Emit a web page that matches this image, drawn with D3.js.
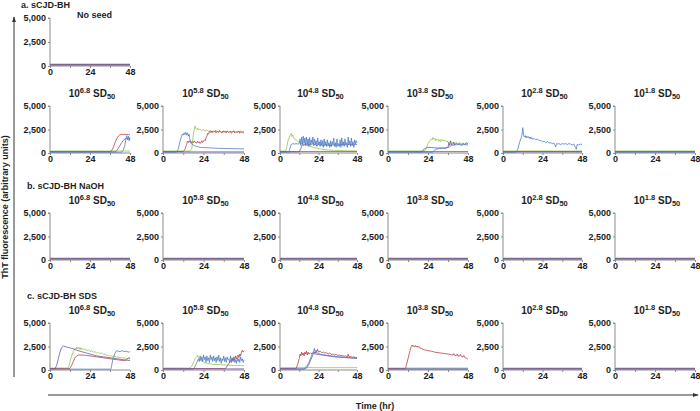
<!DOCTYPE html>
<html><head><meta charset="utf-8">
<script src="https://cdn.jsdelivr.net/npm/d3@7"></script>
<style>
body{margin:0;background:#fff}
text{font-family:"Liberation Sans",Arial,Helvetica,sans-serif;font-weight:bold;fill:#1e1e1e}
</style>
</head><body>
<svg id="chart" width="700" height="411"></svg>
<script>
// ---------------- DATA ----------------
const sectionLabels = ["a. sCJD-BH", "b. sCJD-BH NaOH", "c. sCJD-BH SDS"];
const noSeedLabel = "No seed";
const doseExponents = ["6.8", "5.8", "4.8", "3.8", "2.8", "1.8"];
const yTickValues = [0, 2500, 5000];
const xTickLabels = [0, 24, 48];
const xMinorTicks = [12, 36];
const yAxisTitle = "ThT fluorescence (arbitrary units)";
const xAxisTitle = "Time (hr)";
const seriesNames = ["blue", "red", "green", "purple"];
const seriesColors = ["#4a78c6", "#b23a40", "#8fc24a", "#6a4fa6"];

// flat (unreacted) baselines, [time hr, fluorescence]
const baseBlue = [[0, 90], [48, 90]];
const baseRed = [[0, 150], [48, 150]];
const baseGreen = [[0, 210], [48, 210]];
const basePurple = [[0, 120], [48, 120]];

// a. sCJD-BH seeded
const a68Red = [[0,150],[36,150],[37,250],[38,600],[39,1100],[40,1500],[41,1800],[42,1950],[43,2000],[44,1950],[45,2000],[46,1950],[47,1980],[48,1900]];
const a68Purple = [[0,120],[39,120],[40,250],[41,500],[42,800],[43,1100],[44,1350],[45,1500],[46,1550],[47,1500],[48,1480]];
const a68Blue = [[0,90],[43,90],[44,300],[45,900],[45.5,1500],[46,1850],[46.5,1400],[47,1800],[47.5,1300],[48,1700]];

const a58Blue = [[0,90],[8,90],[9,400],[10,1200],[11,1800],[11.5,2000],[12,1900],[12.5,2150],[13,1950],[13.5,2200],[14,1900],[14.5,2150],[15,1800],[15.5,2000],[16,1400],[16.5,1050],[17,950],[18,850],[19,750],[20,700],[21,650],[22,600],[24,580],[26,560],[28,540],[30,520],[33,500],[36,480],[40,460],[44,450],[48,440]];
const a58Red = [[0,150],[12,150],[13,400],[14,900],[14.5,1250],[15,1100],[15.5,1300],[16,1150],[16.5,1250],[17,1050],[17.5,1200],[18,1100],[18.5,1300],[19,1150],[20,1050],[20.5,1250],[21,1100],[21.5,1200],[22,1000],[22.5,1150],[23,1300],[23.5,1100],[24,1250],[24.5,1400],[25,1300],[25.5,1600],[26,1800],[26.5,2100],[27,2000],[27.5,2300],[28,2200],[28.5,2350],[29,2150],[29.5,2300],[30,2200],[31,2400],[31.5,2150],[32,2300],[33,2200],[33.5,2400],[34,2250],[35,2150],[35.5,2350],[36,2200],[37,2300],[37.5,2150],[38,2350],[39,2200],[40,2300],[40.5,2100],[41,2250],[42,2350],[42.5,2150],[43,2250],[44,2200],[45,2300],[45.5,2100],[46,2250],[47,2200],[48,2150]];
const a58Green = [[0,210],[16,210],[17,400],[17.5,1200],[18,2000],[18.5,2500],[19,2900],[19.5,2600],[20,2500],[20.5,2650],[21,2450],[22,2550],[23,2400],[24,2500],[25,2350],[26,2450],[27,2300],[28,2400],[29,2250],[30,2350],[31,2200],[32,2350],[33,2250],[34,2300],[35,2200],[36,2350],[37,2250],[38,2300],[39,2200],[40,2300],[41,2250],[42,2350],[43,2200],[44,2300],[45,2250],[46,2350],[47,2250],[48,2300]];

const a48Green = [[0,210],[3.5,210],[4,500],[5,1300],[6,1800],[6.5,1900],[7,2100],[7.5,1750],[8,1900],[8.5,1600],[9,1500],[10,1400],[11,1250],[12,1150],[13,1050],[14,950],[16,850],[18,750],[20,650],[22,550],[24,480],[26,400],[28,350],[30,320],[34,280],[38,250],[42,230],[48,210]];
const a48Blue = [[0,90],[5.5,90],[6,400],[7,900],[8,1000],[9,950],[10,1000],[11,950],[12,1000],[12.5,1500],[13,800],[13.5,1700],[14,900],[14.5,1800],[15,1000],[15.5,1600],[16,800],[16.5,1700],[17,900],[17.5,1500],[18,700],[18.5,1650],[19,900],[19.5,1400],[20,1000],[20.5,1700],[21,800],[21.5,1500],[22,900],[22.5,1300],[23,700],[23.5,1600],[24,900],[24.5,1200],[25,700],[25.5,1400],[26,800],[26.5,1300],[27,600],[27.5,1500],[28,800],[28.5,1200],[29,700],[29.5,1400],[30,800],[30.5,1100],[31,600],[31.5,1300],[32,700],[32.5,1200],[33,900],[33.5,1600],[34,700],[34.5,1100],[35,600],[35.5,1500],[36,800],[36.5,1000],[37,700],[37.5,1400],[38,600],[38.5,1600],[39,800],[39.5,1200],[40,700],[40.5,1500],[41,900],[41.5,1100],[42,600],[42.5,1700],[43,900],[43.5,1300],[44,700],[44.5,1600],[45,800],[45.5,1200],[46,600],[46.5,1400],[47,900],[47.5,1300],[48,1100]];
const a48Purple = [[0,120],[12,120],[13,500],[14,900],[15,800],[16,1000],[17,850],[18,950],[19,800],[20,1000],[21,850],[22,900],[23,750],[24,950],[25,800],[26,900],[27,750],[28,850],[29,900],[30,800],[31,850],[32,750],[33,900],[34,800],[35,850],[36,750],[37,900],[38,800],[39,1000],[40,850],[41,900],[42,800],[43,950],[44,850],[45,900],[46,800],[47,950],[48,900]];

const a38Green = [[0,210],[22,210],[23,500],[24,1000],[25,1300],[26,1500],[26.5,1400],[27,1650],[27.5,1450],[28,1550],[28.5,1300],[29,1500],[29.5,1350],[30,1450],[30.5,1250],[31,1400],[31.5,1200],[32,1450],[32.5,1300],[33,1400],[33.5,1250],[34,1350],[35,1200],[35.5,1300],[36,1100],[37,1200],[38,1050],[39,1150],[40,1000],[41,1100],[42,950],[43,1100],[44,1000],[45,1050],[46,950],[47,1100],[48,1000]];
const a38Purple = [[0,120],[20.5,120],[21,300],[22,450],[23,550],[24,600],[26,580],[28,550],[30,520],[32,540],[34,500],[35,520],[36,600],[36.5,1100],[37,800],[37.5,1300],[38,850],[38.5,1000],[39,900],[39.5,1150],[40,850],[41,1050],[42,900],[43,1000],[44,850],[45,1000],[46,900],[47,1050],[48,950]];
const a38Blue = [[0,90],[27,90],[28,300],[29,400],[30,450],[32,500],[34,550],[36,600],[37,650],[38,800],[40,850],[42,900],[44,850],[46,900],[48,850]];

const a28Blue = [[0,90],[8,90],[9,400],[10,1100],[11,1600],[11.5,1900],[12,2700],[12.5,1900],[13,1700],[13.5,1850],[14,1600],[14.5,1800],[15,1650],[15.5,1750],[16,1550],[16.5,1700],[17,1500],[17.5,1650],[18,1450],[19,1550],[20,1400],[21,1500],[22,1300],[23,1350],[24,1200],[25,1250],[26,1100],[27,1200],[28,1050],[29,1100],[30,1000],[31,1050],[32,650],[32.5,1000],[33,950],[34,1000],[35,900],[36,1000],[37,950],[38,1000],[39,900],[40,1000],[41,950],[42,850],[43,950],[44,600],[44.5,400],[45,900],[46,850],[47,950],[48,900]];

// c. sCJD-BH SDS
const c68Purple = [[0,120],[3,120],[4,500],[5,1200],[6,1900],[7,2400],[8,2550],[9,2500],[10,2450],[12,2350],[14,2250],[16,2100],[18,2000],[20,1900],[22,1800],[24,1700],[26,1600],[28,1500],[30,1450],[32,1400],[34,1350],[36,1300],[38,1250],[40,1200],[42,1150],[44,1100],[46,1050],[48,1000]];
const c68Green = [[0,210],[11,210],[11.5,500],[12,900],[13,1500],[14,2000],[15,2300],[15.5,2200],[16,2450],[16.5,2250],[17,2400],[17.5,2200],[18,2400],[18.5,2150],[19,2350],[20,2150],[21,2250],[22,2050],[23,2150],[24,1950],[25,2050],[26,1900],[27,1950],[28,1800],[29,1900],[30,1750],[31,1800],[32,1650],[33,1700],[34,1550],[35,1600],[36,1450],[37,1550],[38,1400],[39,1450],[40,1350],[41,1400],[42,1300],[43,1350],[44,1250],[45,1300],[46,1200],[47,1250],[48,1150]];
const c68Red = [[0,150],[12,150],[13,500],[14,900],[15,1300],[16,1500],[17,1580],[18,1600],[20,1580],[22,1550],[24,1500],[26,1450],[28,1400],[30,1350],[32,1300],[34,1250],[36,1200],[38,1150],[40,1100],[42,1050],[44,1000],[45,1000],[46,1100],[47,1300],[48,1250]];
const c68Blue = [[0,90],[36.5,90],[37,500],[38,1300],[39,1800],[40,2050],[41,2000],[42,1950],[43,2050],[44,2000],[45,1950],[46,2000],[47,1900],[48,1950]];

const c58Green = [[0,210],[16,210],[17,400],[18,800],[19,1200],[20,1400],[20.5,1600],[21,1300],[22,1100],[23,950],[24,850],[25,750],[26,700],[28,650],[30,600],[32,580],[34,560],[36,540],[38,520],[40,500],[42,500],[44,480],[46,470],[48,460]];
const c58Blue = [[0,90],[18,90],[19,400],[20,800],[21,1200],[21.5,900],[22,1500],[22.5,1000],[23,1400],[23.5,900],[24,1600],[24.5,1100],[25,1400],[25.5,800],[26,1500],[26.5,1000],[27,1300],[27.5,800],[28,1600],[28.5,1100],[29,1400],[29.5,900],[30,1500],[30.5,1000],[31,1300],[31.5,800],[32,1400],[32.5,1000],[33,1600],[33.5,900],[34,1300],[34.5,700],[35,1200],[35.5,1000],[36,1500],[36.5,900],[37,1300],[37.5,800],[38,1400],[38.5,1100],[39,1200],[39.5,800],[40,1500],[40.5,1000],[41,1300],[41.5,900],[42,1200],[42.5,800],[43,1100],[43.5,700],[44,1300],[44.5,900],[45,1200],[45.5,800],[46,1400],[46.5,1000],[47,1200],[47.5,800],[48,1100]];
const c58Red = [[0,150],[37,150],[38,400],[39,700],[40,1000],[40.5,800],[41,1200],[41.5,1000],[42,1400],[42.5,1100],[43,1500],[43.5,1200],[44,1400],[44.5,1600],[45,1300],[45.5,1700],[46,1500],[46.5,1900],[47,2100],[47.5,1900],[48,2050]];

const c48Red = [[0,150],[10,150],[11,600],[12,1200],[12.5,1700],[13,1500],[13.5,1900],[14,1600],[14.5,1800],[15,1500],[15.5,1900],[16,1700],[16.5,2000],[17,1600],[17.5,1900],[18,1700],[19,1800],[20,1700],[21,1900],[22,1800],[23,2000],[23.5,2200],[24,1900],[25,2000],[26,1850],[27,1900],[28,1800],[29,1850],[30,1700],[31,1800],[32,1650],[33,1700],[34,1600],[35,1650],[36,1550],[37,1600],[38,1500],[39,1550],[40,1450],[41,1500],[42,1400],[42.5,1700],[43,1400],[44,1450],[45,1350],[46,1400],[47,1300],[48,1350]];
const c48Blue = [[0,90],[15,90],[16,300],[17,500],[18,800],[19,1200],[20,1700],[21,2000],[21.5,2300],[22,1800],[22.5,2100],[23,1800],[24,1750],[25,1700],[26,1650],[28,1600],[30,1550],[32,1500],[34,1450],[36,1400],[38,1380],[40,1350],[42,1320],[44,1300],[46,1280],[48,1250]];
const c48Purple = [[0,120],[16,120],[17,300],[18,600],[19,1000],[20,1400],[21,1800],[22,1700],[24,1650],[26,1600],[28,1550],[30,1500],[32,1450],[34,1400],[36,1380],[38,1350],[40,1330],[42,1300],[44,1280],[46,1260],[48,1230]];
const c48Green = [[0,250],[48,250]];

const c38Red = [[0,150],[10.5,150],[11,500],[12,1200],[13,1900],[13.5,2300],[14,2500],[14.5,2650],[15,2500],[15.5,2600],[16,2450],[16.5,2600],[17,2450],[17.5,2550],[18,2400],[18.5,2500],[19,2350],[20,2300],[21,2200],[22,2150],[24,2050],[26,2000],[28,1900],[30,1850],[32,1800],[34,1750],[36,1700],[38,1620],[39,1580],[39.5,1750],[40,1550],[41,1550],[41.5,1700],[42,1500],[43,1480],[43.5,1650],[44,1450],[45,1400],[45.5,1550],[46,1350],[47,1250],[48,1150]];

// series per panel, in order blue, red, green, purple
const noSeedPanel = [baseBlue, baseRed, baseGreen, basePurple];
const rowA = [
  [a68Blue, a68Red, baseGreen, a68Purple],
  [a58Blue, a58Red, a58Green, basePurple],
  [a48Blue, baseRed, a48Green, a48Purple],
  [a38Blue, baseRed, a38Green, a38Purple],
  [a28Blue, baseRed, baseGreen, basePurple],
  [baseBlue, baseRed, baseGreen, basePurple]
];
const rowB = doseExponents.map(() => [baseBlue, baseRed, baseGreen, basePurple]);
const rowC = [
  [c68Blue, c68Red, c68Green, c68Purple],
  [c58Blue, c58Red, c58Green, basePurple],
  [c48Blue, c48Red, c48Green, c48Purple],
  [baseBlue, c38Red, baseGreen, basePurple],
  [baseBlue, baseRed, baseGreen, basePurple],
  [baseBlue, baseRed, baseGreen, basePurple]
];

// ---------------- LAYOUT ----------------
const svg = d3.select("#chart");
const colX = [50, 163, 280, 388, 503, 615];
const colW = [80, 81, 77, 80, 79, 80];
const axisColor = "#8c8c8c";

function drawPanel(x0, w, yTop, yBot, series, title) {
  const g = svg.append("g");
  const x = d3.scaleLinear().domain([0, 48]).range([x0, x0 + w]);
  const y = d3.scaleLinear().domain([0, 5000]).range([yBot, yTop]);

  // y axis
  const ya = g.append("g").attr("transform", `translate(${x0},0)`)
    .call(d3.axisLeft(y).tickValues(yTickValues).tickSize(2).tickPadding(2)
      .tickFormat(d3.format(",")));
  ya.select(".domain").attr("stroke", axisColor).attr("d", `M-2,${yTop}H0V${yBot}`);
  ya.selectAll(".tick line").attr("stroke", axisColor);
  ya.selectAll(".tick text").attr("font-size", 9).attr("font-family", null).style("fill", "#1e1e1e");

  // x axis
  const xa = g.append("g").attr("transform", `translate(0,${yBot})`)
    .call(d3.axisBottom(x).tickValues(xTickLabels.concat(xMinorTicks)).tickSize(2).tickPadding(1)
      .tickFormat(d => xTickLabels.includes(d) ? d : ""));
  xa.select(".domain").attr("stroke", axisColor).attr("d", `M${x0},0H${x0 + w}`);
  xa.selectAll(".tick line").attr("stroke", axisColor);
  xa.selectAll(".tick text").attr("font-size", 9).attr("font-family", null).style("fill", "#1e1e1e");

  // traces
  const line = d3.line().x(d => x(d[0])).y(d => y(d[1]));
  const order = [0, 3, 2, 1];
  series.forEach((s, i) => {});
  [2, 1, 3, 0].forEach(i => {
    g.append("path").datum(series[i]).attr("d", line)
      .attr("fill", "none").attr("stroke", seriesColors[i])
      .attr("stroke-width", 0.9).attr("stroke-opacity", 0.85)
      .attr("stroke-linejoin", "round");
  });

  // title
  if (title !== null) {
    const cx = x0 + w / 2 + 2;
    const t = g.append("text").attr("x", cx).attr("y", yTop - 9)
      .attr("text-anchor", "middle").attr("font-size", 10);
    if (typeof title === "string") {
      t.text(title);
    } else {
      t.append("tspan").text("10");
      t.append("tspan").attr("font-size", 7.5).attr("dy", -4).text(title.exp);
      t.append("tspan").attr("dy", 4).text(" SD");
      t.append("tspan").attr("font-size", 7.5).attr("dy", 2).text("50");
    }
  }
}

// section labels
svg.append("text").attr("x", 21).attr("y", 8).attr("font-size", 9).text(sectionLabels[0]);
svg.append("text").attr("x", 27).attr("y", 189).attr("font-size", 9).text(sectionLabels[1]);
svg.append("text").attr("x", 27).attr("y", 299).attr("font-size", 9).text(sectionLabels[2]);

// No seed panel
drawPanel(colX[0], colW[0], 18, 66, noSeedPanel, null);
svg.append("text").attr("x", 77).attr("y", 18).attr("font-size", 9).text(noSeedLabel);

const rowsData = [[rowA, 106, 153], [rowB, 213, 260], [rowC, 323, 370]];
rowsData.forEach(([rowSeries, top, bot]) => {
  rowSeries.forEach((series, j) => {
    drawPanel(colX[j], colW[j], top, bot, series, {exp: doseExponents[j]});
  });
});

// big axis arrows
const defs = svg.append("defs");
defs.append("marker").attr("id", "arr").attr("viewBox", "0 0 10 10")
  .attr("refX", 9).attr("refY", 5).attr("markerWidth", 6).attr("markerHeight", 6)
  .attr("orient", "auto")
  .append("path").attr("d", "M0,1.5L10,5L0,8.5Z").attr("fill", "#333");

svg.append("line").attr("x1", 14).attr("y1", 377).attr("x2", 14).attr("y2", 17)
  .attr("stroke", "#333").attr("stroke-width", 1).attr("marker-end", "url(#arr)");
svg.append("line").attr("x1", 48).attr("y1", 395).attr("x2", 698).attr("y2", 395)
  .attr("stroke", "#333").attr("stroke-width", 1).attr("marker-end", "url(#arr)");

svg.append("text").attr("transform", "translate(8,207) rotate(-90)")
  .attr("text-anchor", "middle").attr("font-size", 9).text(yAxisTitle);
svg.append("text").attr("x", 375).attr("y", 409).attr("text-anchor", "middle")
  .attr("font-size", 9).text(xAxisTitle);
</script>
</body></html>
